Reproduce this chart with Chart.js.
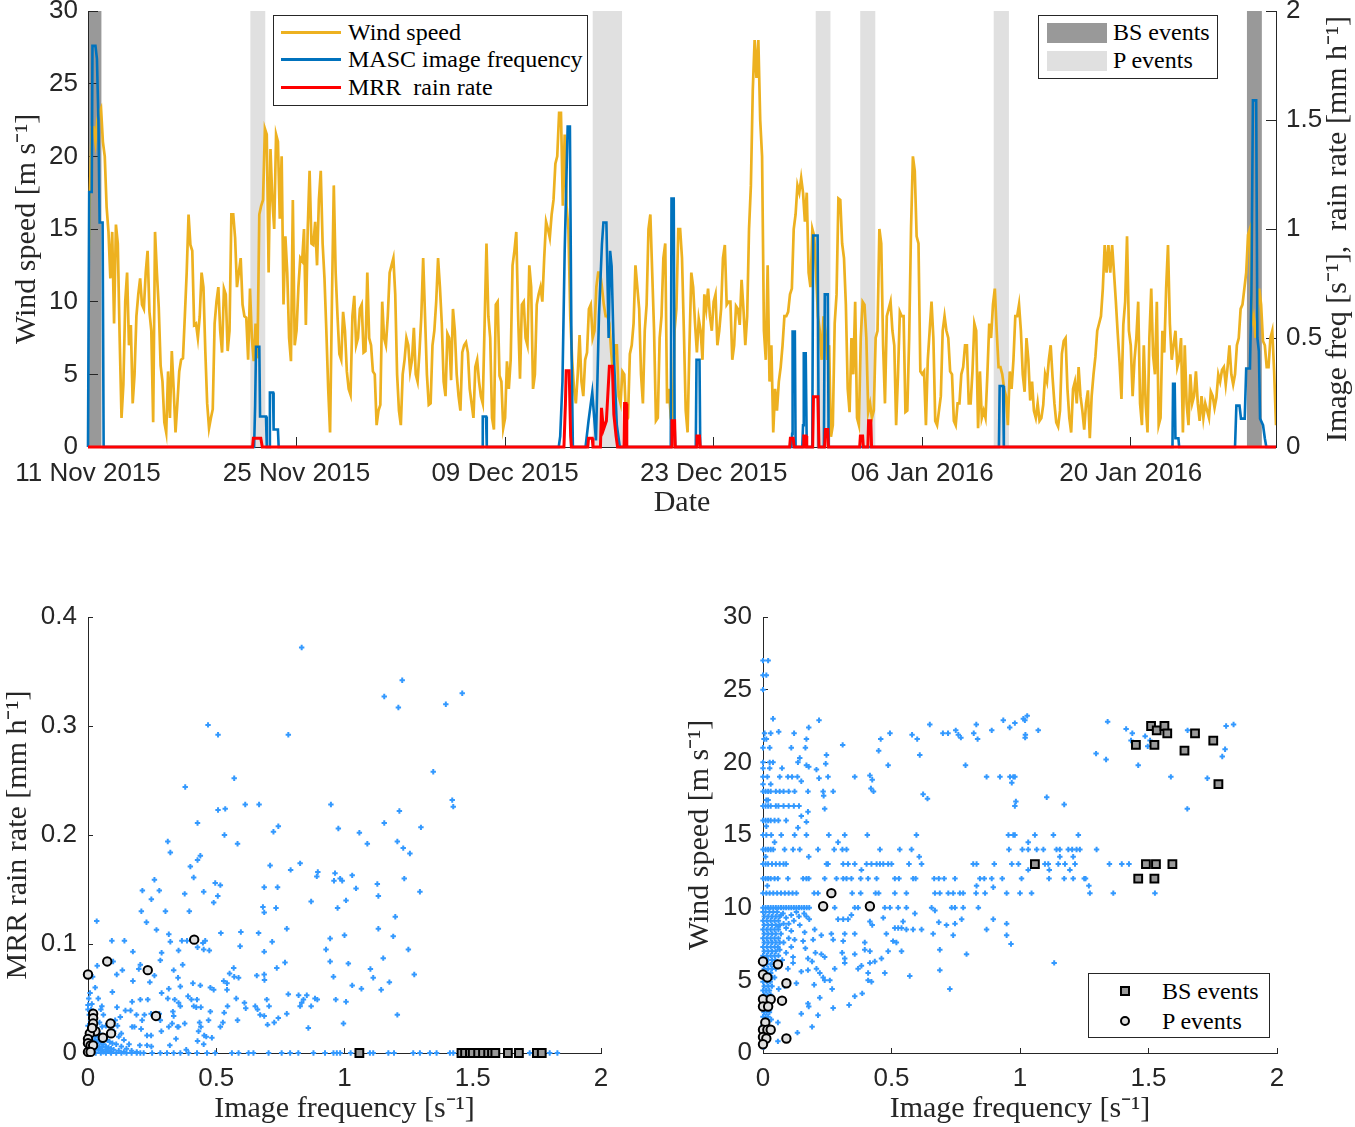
<!DOCTYPE html>
<html>
<head>
<meta charset="utf-8">
<script src="https://cdn.jsdelivr.net/npm/chart.js@4.4.1/dist/chart.umd.min.js"></script>
<style>
  body { margin: 0; background: #fff; width: 1355px; height: 1127px; position: relative; overflow: hidden; }
  canvas { position: absolute; }
  .legend { position: absolute; border: 1px solid #262626; background: #fff; box-sizing: border-box; }
  .legend span { position: absolute; font-family: "Liberation Serif", serif; font-size: 24px; line-height: 28px; color: #000; white-space: pre; }
  .legend i { position: absolute; display: block; box-sizing: border-box; }
</style>
</head>
<body>
<canvas id="series" width="1355" height="525" style="left:0;top:0"></canvas>
<canvas id="rainScatter" width="640" height="527" style="left:0;top:600px"></canvas>
<canvas id="windScatter" width="695" height="527" style="left:660px;top:600px"></canvas>

<div class="legend" style="left:273px;top:15px;width:315px;height:91px">
  <i style="left:7px;top:15px;width:60px;height:3px;background:#EDB120"></i><span style="left:74px;top:2px">Wind speed</span>
  <i style="left:7px;top:42px;width:60px;height:3px;background:#0072BD"></i><span style="left:74px;top:29px">MASC image frequency</span>
  <i style="left:7px;top:70px;width:60px;height:3px;background:#FF0000"></i><span style="left:74px;top:57px">MRR  rain rate</span>
</div>
<div class="legend" style="left:1038px;top:15px;width:180px;height:64px">
  <i style="left:8px;top:7px;width:60px;height:20px;background:#999999"></i><span style="left:74px;top:2px">BS events</span>
  <i style="left:8px;top:35px;width:60px;height:20px;background:#E0E0E0"></i><span style="left:74px;top:30px">P events</span>
</div>
<div class="legend" style="left:1088px;top:973px;width:182px;height:65px">
  <i style="left:31px;top:12px;width:10px;height:10px;background:#999999;border:2px solid #000"></i><span style="left:73px;top:3px">BS events</span>
  <i style="left:31px;top:42px;width:10px;height:10px;background:#E0E0E0;border:2px solid #000;border-radius:50%"></i><span style="left:73px;top:33px">P events</span>
</div>

<script>
// ---- time series (days since 11 Nov 2015 00:00) ----
const dateTickDays = [0, 14, 28, 42, 56, 70];
const dateTickLabels = ['11 Nov 2015', '25 Nov 2015', '09 Dec 2015', '23 Dec 2015', '06 Jan 2016', '20 Jan 2016'];
const seriesEndDay = 79.75;

// wind speed every 3 h, m/s
const windStepDays = 0.125;
const windSpeed = [
  10,17.5,22,22,21,22.5,23,23.3,21,20,16.5,14.8,11.6,14.8,8.5,15.3,14,7.5,2,4.3,
  10,12,7,8.4,3,5,9,10.5,11.6,9.8,9.5,12,13.5,9.3,8,1.7,14.8,12,9.6,5.6,
  4.5,1.7,1,5.2,2,6.6,4,1,3,5.2,6,6.1,9,12,16,13.9,13.5,8.4,8.5,7.5,
  9,12,11,6.6,3,1.3,2,2.6,8.5,10,11,8,6.5,10.9,10.5,6.6,8,16,16,14.4,
  11,12,13,9.8,9,8.9,6,10.9,7.5,5.9,8.5,6.1,16,16.6,17,21.9,21.5,12,20.5,17,
  15,21.5,21,15.7,20,9.8,14.5,12,7.5,5.9,17,7,8,11,13,12.8,15,8.4,15,19,
  14,13.9,15.5,12.5,17,19,14,11.6,8,4,1,10,18,12,9,6.4,6,9.3,8,5.2,
  4,3.6,9,10.4,7,7.5,9.5,9.8,6.5,6.6,12,7.5,7,5.2,5,1.5,2.5,2.9,10,7.5,
  7,9,12,12.5,13,10.5,5,2.5,1.5,5,6,7.5,7,5.2,6,8.2,5,4.5,6.5,9,
  13,9,5,2.9,3,7,8,10,13,11,8.5,4.5,3.5,7.8,7.5,4.6,9.5,8,5,3.5,
  2.5,6.5,7,7.2,6.5,4,3,2,5.5,6,4.5,3.5,3,8.5,14,9,7.5,2,1.2,9.8,
  10,4.9,4.5,1.3,2,5.9,4,6,12.5,13.5,14.8,9,4.7,9.8,10,7.5,7,12.5,11,4,
  5,9.8,10.5,11,10,13,15.5,15,14.4,16,17,19.5,20,23,23,16.6,21.5,16.6,15,9,
  6,4,3,5,7.7,4.5,3.5,6,6.5,9.5,9.8,7.5,8,11,12,12,11,9.8,9,9,
  8.5,6.5,5,7,7,3.5,3,5.2,5,1.8,2,6.4,7,8.5,12.5,11,9.5,5,3,8,
  9.8,15,16,12,8,1.8,2,7.5,9,13,14,3,4,2,1.5,8,9.5,15,15,13,
  8,2.5,1,7,12,11,8.5,6.5,8.8,8,6,10.5,9.5,10.9,9,8,10,10.5,7,8,
  9.5,13,13.9,9.8,10,10,6,7,9.7,9.5,8.4,11.5,9.5,7,9,15,18,24.5,28,25.4,
  28,22.5,20,8,6,12.5,4.5,7,1,4,2.5,4.5,5.5,7,9,9,9.3,10.5,10.9,15,
  16,18,17.5,18.5,17.5,15.5,17.5,12,11,15,14.5,12,9,8,6,9,8,6,7,0.7,
  1.5,8.5,10.5,17.1,17,14,13,9.8,4,2.4,7.5,5,10,2,1.5,7.5,10,9.8,7.5,2.4,
  3,2,2.5,7.5,8,15,14,7,3,9,9.5,10,8,7,1.5,5,9.3,9,9,2.4,
  2.5,7.5,15,20,19,14.5,14,5.2,5,5.2,1.5,6,8,10,7.5,1.8,1.5,2.5,3.5,8,
  9,8,7.5,5.2,5,1.8,1.5,3,3,5,5.5,7,7,3,3,5.2,8.5,8,1.3,5.2,
  2,2.5,2,5,8.5,7.5,9.8,10.9,8,5.5,5.5,5,4,3.5,1.5,5.2,4,6,9,9,
  9.8,8,5,3.8,7.5,6,3.2,4.5,2.5,2,3,1.8,2,2.9,5,4.5,6,7,4.8,3,
  1.7,1.4,2.5,6.4,7.3,7.5,4,2,1,4,4.5,3,5.5,3.5,2.5,1.2,3,3.9,0.6,3.5,
  5,6.2,8,8.5,9,10.9,13.9,12,13.9,12,13.9,12,10,7.8,5.8,3.3,8.4,10,14.5,8,
  7,3.5,6,7.5,10,3,1.5,7,3,1,7.5,10.9,6.3,5,10,1.5,2,8,6.5,10.9,
  13.9,8.5,6,7,8,5.5,6,7.5,1,7,3,1.5,5,3,3.5,5.2,3,1.8,3.5,2,
  3,2.5,2,3.8,3.5,2.7,3.4,5,4.5,5.3,5.5,4.3,5.5,7,5,4.3,5,7,7.5,9.5,
  9.8,10.9,12,14.6,15,8.5,9,7.5,9,10.9,9.8,7.3,7,5.5,5.5,7.5,8,5.2,1.5
];

// [day, image frequency s^-1]
const freqSeries = [
  [0,0],[0.08,1.17],[0.25,1.17],[0.3,1.84],[0.5,1.84],[0.6,1.78],[0.7,1.5],[0.78,1.03],[0.98,1.03],[1.05,0],
  [11.15,0],[11.22,0.19],[11.28,0.46],[11.5,0.46],[11.55,0.14],[11.95,0.14],[12.0,0],[12.17,0],[12.21,0.25],[12.42,0.25],[12.46,0.08],[12.75,0.08],[12.8,0],
  [26.45,0],[26.5,0.14],[26.72,0.14],[26.77,0],
  [31.6,0],[31.7,0.05],[31.85,0.3],[32.0,0.9],[32.2,1.47],[32.35,1.47],[32.45,0.5],[32.55,0],
  [33.4,0],[33.6,0.12],[33.85,0.25],[34.1,0.03],[34.3,0.6],[34.5,0.93],[34.6,1.03],[34.8,1.03],[34.95,0.5],[35.05,0.9],[35.15,0.83],[35.3,0.42],[35.5,0.1],[35.7,0],
  [39.12,0],[39.17,1.14],[39.32,1.14],[39.38,0.1],[39.42,0],
  [40.8,0],[40.85,0.4],[41.05,0.4],[41.1,0],
  [47.22,0],[47.27,0.06],[47.3,0.53],[47.45,0.53],[47.5,0],
  [47.95,0],[48.0,0.1],[48.05,0.43],[48.18,0.43],[48.25,0],
  [48.62,0],[48.68,0.97],[48.98,0.97],[49.05,0],
  [49.4,0],[49.46,0.7],[49.66,0.7],[49.72,0],
  [61.15,0],[61.2,0.28],[61.43,0.28],[61.48,0],
  [72.8,0],[72.84,0.29],[72.95,0.29],[73.0,0.04],[73.2,0.04],[73.25,0],
  [77.0,0],[77.09,0.19],[77.3,0.19],[77.4,0.13],[77.65,0.13],[77.75,0.36],[78.0,0.36],[78.1,0.7],[78.2,1.59],[78.42,1.59],[78.5,0.5],[78.6,0.44],[78.68,0.13],[78.88,0.1],[79.0,0.04],[79.1,0],[79.75,0]
];

// [day, rain rate mm h^-1]
const rainSeries = [
  [0,0],[11.05,0],[11.1,0.04],[11.6,0.04],[11.7,0],
  [31.95,0],[32.05,0.2],[32.1,0.35],[32.3,0.35],[32.4,0.05],[32.45,0],
  [33.55,0],[33.6,0.04],[33.85,0.04],[33.9,0],
  [34.4,0],[34.47,0.18],[34.6,0.08],[34.8,0.12],[35.0,0.37],[35.2,0.37],[35.3,0.15],[35.45,0.05],[35.55,0],
  [35.98,0],[36.02,0.2],[36.12,0.2],[36.17,0],
  [39.15,0],[39.2,0.12],[39.38,0.12],[39.42,0],
  [40.83,0],[40.88,0.05],[41.05,0.05],[41.1,0],
  [47.1,0],[47.15,0.04],[47.34,0.04],[47.4,0],
  [48.0,0],[48.05,0.05],[48.2,0.05],[48.25,0],
  [48.65,0],[48.7,0.23],[49.0,0.23],[49.07,0],
  [49.45,0],[49.5,0.08],[49.66,0.08],[49.7,0],
  [51.8,0],[51.85,0.05],[52.0,0.05],[52.05,0],
  [52.35,0],[52.4,0.12],[52.55,0.12],[52.6,0],
  [79.75,0]
];

const bsEvents = [[0, 0.9], [77.8, 78.8]];
const pEvents = [[10.9, 11.9], [33.88, 35.85], [48.85, 49.84], [51.84, 52.85], [60.8, 61.82]];

// ---- scatter: image frequency vs MRR rain rate ----
const rainAll = [
  [0.833,0.372],[0.468,0.301],[0.507,0.292],[0.781,0.292],[0.570,0.252],[0.379,0.244],[0.613,0.228],[0.667,0.228],[0.507,0.223],[0.535,0.224],
  [0.947,0.228],[0.976,0.206],[0.427,0.211],[0.532,0.200],[0.723,0.203],[0.742,0.208],[0.311,0.194],[0.321,0.184],[0.583,0.192],[0.438,0.181],
  [0.427,0.177],[0.399,0.171],[0.412,0.161],[0.710,0.172],[0.790,0.168],[0.827,0.174],[0.896,0.166],[0.892,0.162],[0.963,0.165],[0.959,0.158],
  [0.259,0.159],[0.496,0.156],[0.516,0.154],[0.212,0.149],[0.278,0.149],[0.377,0.146],[0.451,0.148],[0.687,0.152],[0.739,0.152],[0.506,0.144],
  [0.247,0.141],[0.490,0.138],[0.870,0.139],[0.208,0.130],[0.302,0.130],[0.395,0.130],[0.682,0.134],[0.687,0.129],[0.733,0.133],[0.973,0.133],
  [0.034,0.121],[0.228,0.120],[0.267,0.113],[0.775,0.114],[0.315,0.109],[0.518,0.110],[0.596,0.111],[0.665,0.110],[0.093,0.103],[0.142,0.103],
  [0.321,0.102],[0.366,0.103],[0.386,0.103],[0.457,0.103],[0.448,0.101],[0.718,0.102],[0.944,0.105],[0.593,0.098],[0.928,0.095],[0.175,0.093],
  [0.287,0.092],[0.353,0.094],[0.427,0.097],[0.451,0.095],[0.473,0.094],[0.687,0.093],[0.282,0.085],[0.098,0.084],[0.036,0.080],[0.768,0.083],
  [0.944,0.084],[0.204,0.081],[0.198,0.077],[0.369,0.081],[0.134,0.076],[0.112,0.072],[0.334,0.076],[0.259,0.071],[0.241,0.065],[0.568,0.078],
  [0.552,0.073],[0.570,0.070],[0.587,0.069],[0.658,0.071],[0.687,0.072],[0.688,0.067],[0.736,0.078],[0.957,0.070],[0.175,0.066],[0.351,0.069],
  [0.360,0.061],[0.409,0.064],[0.438,0.062],[0.477,0.060],[0.490,0.058],[0.529,0.066],[0.542,0.064],[0.542,0.058],[0.095,0.056],[0.287,0.055],
  [0.315,0.059],[0.781,0.054],[0.821,0.053],[0.853,0.053],[0.840,0.049],[0.885,0.050],[0.894,0.049],[0.966,0.049],[0.172,0.047],[0.204,0.049],
  [0.233,0.049],[0.311,0.050],[0.338,0.049],[0.353,0.046],[0.360,0.043],[0.390,0.052],[0.403,0.049],[0.425,0.049],[0.412,0.043],[0.422,0.042],
  [0.440,0.042],[0.578,0.050],[0.610,0.046],[0.615,0.041],[0.697,0.049],[0.706,0.043],[0.833,0.046],[0.827,0.043],[0.870,0.043],[0.0,0.044],
  [0.054,0.043],[0.113,0.042],[0.146,0.039],[0.166,0.039],[0.220,0.035],[0.246,0.036],[0.278,0.036],[0.331,0.038],[0.334,0.034],[0.477,0.038],
  [0.531,0.037],[0.544,0.043],[0.583,0.030],[0.652,0.043],[0.661,0.040],[0.671,0.035],[0.687,0.034],[0.742,0.032],[0.775,0.036],[0.106,0.030],
  [0.126,0.033],[0.189,0.035],[0.211,0.030],[0.282,0.030],[0.315,0.024],[0.328,0.027],[0.377,0.027],[0.349,0.024],[0.435,0.028],[0.440,0.024],
  [0.431,0.020],[0.470,0.030],[0.526,0.028],[0.516,0.024],[0.700,0.026],[0.726,0.028],[0.859,0.023],[0.172,0.024],[0.181,0.024],[0.207,0.022],
  [0.286,0.020],[0.353,0.024],[0.453,0.016],[0.461,0.015],[0.483,0.014],[0.343,0.013],[0.230,0.016],[0.246,0.016],[0.427,0.011],[0.451,0.008],
  [0.319,0.007],[0.383,0.003],[0.202,0.007],[0.230,0.007],[0.247,0.006],
  [1.225,0.342],[1.155,0.327],[1.210,0.317],[1.395,0.320],[1.459,0.330],[1.346,0.258],[1.420,0.232],[1.424,0.226],[1.214,0.222],[1.155,0.211],
  [1.298,0.207],[1.058,0.202],[1.089,0.192],[1.206,0.194],[1.229,0.188],[1.255,0.183],[0.983,0.160],[0.991,0.158],[1.030,0.163],[1.045,0.151],
  [1.128,0.155],[1.132,0.144],[1.233,0.160],[1.294,0.148],[1.006,0.140],[1.198,0.125],[1.132,0.114],[1.190,0.107],[1.000,0.108],[1.249,0.095],
  [1.151,0.087],[1.015,0.082],[1.101,0.077],[1.112,0.069],[1.272,0.072],[1.175,0.065],[1.143,0.058],[1.030,0.062],[1.066,0.059],[1.006,0.047],
  [1.206,0.035],[0.996,0.027],
  [0,0.04],[0.005,0.035],[0.01,0.03],[0.015,0.025],[0.02,0.02],[0.03,0.015],[0.04,0.012],[0.05,0.01],[0.06,0.008],[0.07,0.006],
  [0.08,0.005],[0.09,0.004],[0.1,0.003],[0.12,0.002],[0.14,0.001],[0.01,0.01],[0.02,0.008],[0.03,0.005],[0.04,0.003],[0.05,0.002],
  [0.06,0.001],[0.005,0.02],[0.01,0.015],[0.015,0.045],[0.025,0.03],[0.035,0.022],[0.045,0.018],[0.055,0.024],[0.065,0.015],[0.075,0.012],
  [0.085,0.01],[0.095,0.009],[0.11,0.008],[0.13,0.006],[0.15,0.004],[0.17,0.002],[0.19,0.001],[0.025,0.012],[0.035,0.009],[0.045,0.006],
  [0.055,0.005],[0.068,0.003],[0.078,0.002],[0.088,0.001],[0,0.025],[0,0.015],[0,0.005],[0.003,0.05],[0.008,0.055],[0.012,0.04],
  [0.02,0.035],[0.1,0.02],[0.12,0.015],[0.07,0.025],[0.06,0.035],[0.115,0.025],[0.14,0.012],[0.16,0.008],[0.05,0.04],[0.04,0.05],
  [0.028,0.06],[0.018,0.07],[0.045,0.028],[0.085,0.02],[0.13,0.018],
  [0.01,0],[0.03,0],[0.05,0],[0.07,0],[0.09,0],[0.11,0],[0.13,0],[0.15,0],[0.17,0],[0.19,0],
  [0.204,0],[0.217,0],[0.25,0],[0.282,0],[0.308,0],[0.334,0],[0.36,0],[0.392,0],[0.425,0],[0.464,0],
  [0.496,0],[0.561,0],[0.587,0],[0.626,0],[0.645,0],[0.704,0],[0.755,0],[0.788,0],[0.82,0],[0.879,0],
  [0.924,0],[0.957,0],[0.97,0],[0.983,0],[1.024,0],[1.099,0],[1.112,0],[1.171,0],[1.193,0],[1.268,0],
  [1.294,0],[1.333,0],[1.359,0],[1.411,0],[1.424,0],[1.722,0],[1.800,0],[1.830,0]
];
const rainP = [
  [0,0.072],[0.075,0.084],[0.233,0.076],[0.414,0.104],[0.265,0.034],[0.02,0.036],[0.02,0.032],[0.02,0.027],[0.088,0.027],[0.09,0.018],
  [0.058,0.014],[0.029,0.020],[0.007,0.018],[0,0.013],[0,0.009],[0.01,0.007],[0.02,0.007],[0,0.001],[0.01,0.001],[0.016,0.023]
];
const rainBS = [
  [1.058,0],[1.456,0],[1.47,0],[1.489,0],[1.50,0],[1.521,0],[1.54,0],[1.560,0],[1.575,0],[1.588,0],[1.637,0],[1.680,0],[1.750,0],[1.769,0]
];

// ---- scatter: image frequency vs wind speed ----
const windAll = [
  [0,27],[0.02,27],[0,26],[0.013,26],[0,25],
  [0.039,23],[0.218,22.9],[1.013,23],[1.028,23.2],[1.019,22.9],
  [0.649,22.6],[0.935,22.9],[0.98,22.7],[0.96,22.4],[0.83,22.6],[1.341,22.8],[1.413,22.3],[1.437,22],[1.487,21.8],[1.652,22.2],
  [1.802,22.5],[1.831,22.6],[1.071,22.2],[1.021,21.9],[0.006,22],[0.03,22],[0.061,22.1],[0.121,22],[0.178,22.4],[0.494,22],
  [0.58,21.9],[0.70,22],[0.72,22],[0.75,22.2],[0.76,21.9],[0.82,22],[0.89,22.2],[1.02,21.7],
  [0.004,21.6],[0.013,21.6],[0.169,21.6],[0.458,21.6],[0.6,21.6],[0.77,21.7],[0.835,21.6],[0,21],[0.026,21],[0.11,21],
  [0.165,21],[0.31,21.2],[0.45,20.8],[1.432,21.5],[1.497,21.1],[1.506,21.5],[1.296,20.6],[1.335,20.2],[1.46,19.8],[1.798,20.9],[1.787,20.4],
  [0,20],[0.026,20],[0.039,20],[0.136,20],[0.143,20.3],[0.247,20.5],[0.244,19.9],[0.61,20.5],[0.487,19.8],[0.788,19.8],[0.169,19.8],[0.178,19.7],
  [0,19.6],[0.026,19.6],[0.074,19.6],[0.208,19.5],[0,19],[0.017,19],[0.065,19],[0.097,19],[0.113,19],[0.134,19],
  [0.218,18.9],[0.253,19],[0.357,19],[0.416,19.1],[0.425,18.8],[0.87,19],[0.922,19],[0.961,19],[0.974,19],[0.968,18.6],
  [0.149,18.7],[0.98,19],[1.587,19],[1.729,18.9],
  [0,18.5],[0.03,18.5],[0.123,18],[0,18],[0.01,18],[0.02,18],[0.03,18],[0.05,18],[0.065,18],[0.08,18],
  [0.1,18],[0.175,18],[0.234,18],[0.273,18],[0.42,18.2],[0.43,18],[0.236,17.7],[0.623,17.8],[0.64,17.5],
  [0,17],[0.01,17],[0.02,17],[0.03,17],[0.05,17],[0.06,17],[0.08,17],[0.1,17],[0.12,17],[0.14,17],
  [0.175,16.6],[0.24,16.8],[0.984,17.3],[0.98,17],[0.013,17.4],[0.02,17.4],[1.104,17.6],[1.172,17.1],[1.651,16.8],
  [0,16],[0.01,16],[0.02,16],[0.03,16],[0.045,16],[0.06,16],[0.09,16],[0.149,16.3],[0.169,15.9],[0.136,15.5],[0.013,15.6],
  [0,15],[0.013,15],[0.032,15],[0.071,15],[0.123,15],[0.169,15],[0.256,15],[0.318,15],[0.406,15],[0.597,15],
  [0.955,15],[0.974,15],[0.045,14.5],[0.292,14.5],[0.98,15],[1.058,15],[1.13,15],[1.227,15],[1.032,14.5],
  [0,14],[0.01,14],[0.02,14],[0.03,14],[0.04,14],[0.084,14],[0.117,14],[0.143,14],[0.214,14],[0.277,14],
  [0.309,14],[0.325,14],[0.455,14],[0.532,14],[0.578,14],[0.957,14],[1.009,14],[0.01,13.5],[0.178,13.5],[0.608,13.5],
  [1.032,14],[1.065,14],[1.091,14],[1.142,14],[1.155,14],[1.188,14],[1.203,14],[1.22,14],[1.233,14],[1.298,14],[1.155,13.5],[1.207,13.5],
  [0,13],[0.01,13],[0.02,13],[0.035,13],[0.05,13],[0.065,13],[0.08,13],[0.09,13],[0.247,13],[0.253,13],
  [0.312,13],[0.331,13],[0.357,13],[0.403,13],[0.422,13],[0.442,13],[0.455,13],[0.468,13],[0.487,13],[0.5,13],
  [0.568,13],[0.617,13],[0.818,13],[0.831,13],[0.9,13],[0.968,13],[0.994,13],[0.383,12.6],[1.097,13],[1.11,13],
  [1.149,13],[1.175,13],[1.214,13],[1.348,13],[1.396,13],[1.424,13],[1.032,12.6],[1.114,12.6],[1.194,12.6],
  [0,12],[0.01,12],[0.02,12],[0.03,12],[0.045,12],[0.058,12],[0.097,12],[0.156,12],[0.169,12],[0.178,12],
  [0.24,12],[0.286,12],[0.312,12],[0.325,12],[0.344,12],[0.38,12],[0.409,12],[0.442,12],[0.513,12],[0.529,12],
  [0.584,12],[0.594,12],[0.666,12],[0.684,12],[0.705,12],[0.747,12],[0.844,12],[0.861,12],[0.89,12],[0.931,12],
  [1.006,12],[0.017,11.5],[0.831,11.5],[0.896,11.4],[1.113,12],[1.172,12],[1.207,12],[1.25,12],[1.255,12],[1.268,11.5],
  [0,11],[0.013,11],[0.026,11],[0.04,11],[0.055,11],[0.07,11],[0.085,11],[0.1,11],[0.115,11],[0.13,11],
  [0.199,11],[0.214,11],[0.347,11],[0.38,11],[0.438,11],[0.45,11],[0.513,11],[0.558,11],[0.669,11],[0.688,11],
  [0.721,11],[0.74,11],[0.766,11],[0.779,11],[0.829,11],[0.864,11],[0.948,11],[1.0,11],[1.045,11],[1.272,11],[1.363,11],[1.525,11],
  [0,10],[0.01,10],[0.02,10],[0.03,10],[0.04,10],[0.05,10],[0.06,10],[0.07,10],[0.08,10],[0.09,10],
  [0.1,10],[0.11,10],[0.12,10],[0.13,10],[0.14,10],[0.15,10],[0.16,10],[0.17,10],[0.18,10],[0.238,10],
  [0.279,10],[0.357,10],[0.37,10],[0.474,10],[0.494,10],[0.526,10],[0.558,10],[0.591,9.6],[0.656,10],[0.669,9.8],
  [0.734,10],[0.747,10],[0.779,10],[0.838,10],
  [0.078,9.6],[0.13,9.7],[0.169,9.4],[0.344,9.5],[0.292,9.2],[0.312,9.2],[0.331,9.2],[0.416,9.05],[0.425,8.8],[0.468,9.3],
  [0.545,9.05],[0.773,9.2],[0.896,9.2],[0.684,9],[0.714,8.8],[0.747,8.9],[0.948,8.9],[0.09,8.6],[0.143,8.8],[0.162,8.3],
  [0.201,8.5],[0.266,8.2],[0.273,7.8],[0.318,8.2],[0.357,8.2],[0.513,8.6],[0.526,8.6],[0.539,8.6],[0.558,8.5],[0.584,8.5],
  [0.617,8.5],[0.662,8.2],[0.74,8.1],[0.87,8.5],[0.948,8.1],[0.965,7.5],[0.123,7.8],[0.156,7.7],[0.195,7.8],[0.227,8.1],
  [0.312,7.7],[0.396,7.6],[0.48,8.2],[0.519,7.6],[0.506,7.7],[0.688,7.1],[0.792,6.8],[0.11,7.3],[0.165,7.2],[0.204,6.9],
  [0.227,6.8],[0.24,6.6],[0.308,6.9],[0.318,6.5],[0.357,6.8],[0.396,7.1],[0.416,7],[0.461,6.5],[0.487,7],[0.539,7],
  [0.117,6.6],[0.175,6.5],[0.191,6.3],[0.279,5.8],[0.318,6.2],[0.37,5.8],[0.383,6],[0.416,6.2],[0.435,6.3],[0.208,5.8],
  [0.221,5.5],[0.234,5.2],[0.149,5.6],[0.175,5.7],[0.409,5.5],[0.474,5.5],[0.571,5.3],[0.688,5.7],[0.409,5],[0.422,4.9],
  [0.13,4.8],[0.199,4.7],[0.24,5],[0.26,5],[0.269,4.4],[0.727,4.4],[0.357,3.9],[0.386,4.1],[0.221,3.8],[0.175,3.4],
  [0.178,3.2],[0.273,3.1],[0.335,3.3],[0.149,2.7],[0.214,2.6],[0.191,1.8],[0.134,1.4],[0.058,0.8],[0.032,2.3],[0.058,2.1],
  [0.026,3],[0.061,4.4],[0.084,4.6],[0.045,5.2],[0.097,5.8],[0.117,6.2],[1.133,6.2],
  [0.07,9.5],[0.09,9.3],[0.11,9.5],[0.12,9.1],[0.1,8.9],[0.14,9.4],[0.16,9.6],[0.08,8.9],[0.06,8.7],[0.11,8.4],
  [0.18,9.2],[0.07,8.2],[0.08,7.6],[0.1,7.9],[0.065,7.1],[0.09,6.9],[0.075,6.4],
  [0,9.7],[0.01,9.7],[0.025,9.7],[0.04,9.7],[0.055,9.7],[0.005,9.4],[0.02,9.4],[0.035,9.4],[0.05,9.4],[0.065,9.4],
  [0,9.1],[0.015,9.1],[0.03,9.1],[0.045,9.1],[0.06,9.1],[0.005,8.8],[0.02,8.8],[0.035,8.8],[0.05,8.8],[0.065,8.8],
  [0,8.5],[0.015,8.5],[0.03,8.5],[0.045,8.5],[0.06,8.5],[0.005,8.2],[0.02,8.2],[0.035,8.2],[0.05,8.2],
  [0,7.9],[0.015,7.9],[0.03,7.9],[0.045,7.9],[0.06,7.9],[0.005,7.6],[0.02,7.6],[0.035,7.6],[0.05,7.6],[0.065,7.6],
  [0,7.3],[0.015,7.3],[0.03,7.3],[0.045,7.3],[0.058,7.3],[0.005,7],[0.02,7],[0.035,7],[0.05,7],
  [0,6.7],[0.015,6.7],[0.03,6.7],[0.045,6.7],[0.06,6.7],[0.005,6.4],[0.02,6.4],[0.035,6.4],[0.048,6.4],
  [0,6.1],[0.015,6.1],[0.03,6.1],[0.042,6.1],[0.005,5.8],[0.02,5.8],[0.035,5.8],[0.05,5.8],
  [0,5.5],[0.015,5.5],[0.03,5.5],[0.005,5.2],[0.02,5.2],[0.035,5.2],[0,4.9],[0.015,4.9],[0.028,4.9],
  [0.005,4.6],[0.02,4.6],[0.035,4.6],[0,4.3],[0.012,4.3],[0.025,4.3],[0.005,4],[0.018,4],[0.03,4],
  [0,3.7],[0.012,3.7],[0.024,3.7],[0.004,3.4],[0.016,3.4],[0.028,3.4],[0,3.1],[0.01,3.1],[0.02,3.1],
  [0.004,2.8],[0.014,2.8],[0.025,2.8],[0,2.5],[0.01,2.5],[0.02,2.5],[0.004,2.2],[0.012,2.2],
  [0,1.9],[0.01,1.9],[0.018,1.9],[0.004,1.6],[0.012,1.6],[0,1.3],[0.008,1.3],[0.016,1.3],
  [0.003,1],[0.01,1],[0,0.7],[0.006,0.7],[0.002,0.4]
];
const windP = [
  [0.266,11],[0.234,10.1],[0.416,10.1],[0,6.3],[0.058,6.1],[0,5.4],[0.017,5.2],[0.091,4.8],[0,3.7],[0.03,3.7],
  [0.074,3.6],[0,3.2],[0.02,3.2],[0.009,2.1],[0,1.6],[0.017,1.6],[0.03,1.6],[0,1.1],[0.013,1.0],[0.091,1.0],[0,0.6]
];
const windBS = [
  [1.51,22.5],[1.532,22.2],[1.562,22.5],[1.573,22.0],[1.451,21.2],[1.523,21.2],[1.681,22.0],[1.752,21.5],[1.64,20.8],[1.772,18.5],
  [1.058,13],[1.49,13],[1.529,13],[1.593,13],[1.46,12],[1.523,12]
];

// ---- common styling ----
Chart.defaults.animation = false;
Chart.defaults.font.family = '"Liberation Sans", Arial, sans-serif';
Chart.defaults.color = '#262626';
Chart.defaults.plugins.legend.display = false;
Chart.defaults.plugins.tooltip.enabled = false;

const tickFont = { family: '"Liberation Sans", Arial, sans-serif', size: 26 };
const titleFont = { family: '"Liberation Serif", serif', size: 30 };
const ink = '#262626';
const plainNumber = v => String(+Number(v).toFixed(3));

const toXY = pairs => pairs.map(([x, y]) => ({ x, y }));
const fixWidth = w => s => { s.width = w; s.paddingTop = 0; s.paddingBottom = 0; };
const fixHeight = h => s => { s.height = h; s.paddingLeft = 0; s.paddingRight = 0; };
const axisGrid = len => ({ drawOnChartArea: false, tickLength: -len, color: ink, lineWidth: 1 });

// shaded BS / P event periods behind the series
const eventBands = {
  id: 'eventBands',
  beforeDraw(chart) {
    const { ctx, chartArea: a, scales: { x } } = chart;
    const fill = (list, color) => {
      ctx.fillStyle = color;
      list.forEach(([s, e]) => {
        const x0 = x.getPixelForValue(s), x1 = x.getPixelForValue(e);
        ctx.fillRect(x0, a.top, x1 - x0, a.bottom - a.top);
      });
    };
    ctx.save();
    fill(pEvents, '#E0E0E0');
    fill(bsEvents, '#999999');
    ctx.restore();
  }
};

// right axis title reads bottom-to-top like the left one
const rightTitle = {
  id: 'rightTitle',
  afterDraw(chart) {
    const { ctx, chartArea: a, scales: { y2 } } = chart;
    ctx.save();
    ctx.translate(y2.right - 17, (a.top + a.bottom) / 2);
    ctx.rotate(-Math.PI / 2);
    ctx.font = '30px "Liberation Serif", serif';
    ctx.fillStyle = ink;
    ctx.textAlign = 'center';
    ctx.textBaseline = 'middle';
    ctx.fillText('Image freq [s\u207B\u00B9],  rain rate [mm h\u207B\u00B9]', 0, 0);
    ctx.restore();
  }
};

new Chart(document.getElementById('series'), {
  type: 'line',
  data: {
    datasets: [
      { label: 'MRR rain rate', data: toXY(rainSeries), yAxisID: 'y2', borderColor: '#FF0000', borderWidth: 3, pointRadius: 0, order: 1, clip: 5 },
      { label: 'MASC image frequency', data: toXY(freqSeries), yAxisID: 'y2', borderColor: '#0072BD', borderWidth: 2.6, pointRadius: 0, order: 2, clip: 5 },
      { label: 'Wind speed', data: windSpeed.map((v, i) => ({ x: i * windStepDays, y: v })), yAxisID: 'y', borderColor: '#EDB120', borderWidth: 2.7, pointRadius: 0, order: 3 }
    ]
  },
  options: {
    responsive: false,
    layout: { padding: { top: 11, left: 0, right: 0, bottom: 0 } },
    scales: {
      x: {
        type: 'linear', min: 0, max: seriesEndDay,
        afterBuildTicks: s => { s.ticks = dateTickDays.map(v => ({ value: v })); },
        afterFit: fixHeight(78),
        ticks: { autoSkip: false, maxRotation: 0, font: tickFont, color: ink, padding: 21, callback: (v, i) => dateTickLabels[i] },
        grid: axisGrid(10),
        border: { color: ink, width: 1 },
        title: { display: true, text: 'Date', font: titleFont, color: ink, padding: { top: 0, bottom: 4 } }
      },
      y: {
        position: 'left', min: 0, max: 30,
        afterFit: fixWidth(88),
        ticks: { stepSize: 5, font: tickFont, color: ink, padding: 20, callback: plainNumber },
        grid: axisGrid(10),
        border: { color: ink, width: 1 },
        title: { display: true, text: 'Wind speed [m s\u207B\u00B9]', font: titleFont, color: ink, padding: { top: 9, bottom: 0 } }
      },
      y2: {
        position: 'right', min: 0, max: 2,
        afterFit: fixWidth(79),
        ticks: { stepSize: 0.5, font: tickFont, color: ink, padding: 20, callback: plainNumber },
        grid: axisGrid(10),
        border: { color: ink, width: 1 }
      }
    }
  },
  plugins: [eventBands, rightTitle]
});

function scatterChart(id, blue, bs, p, yMax, yStep, yTitle, yWidth, titlePad, rightPad) {
  return new Chart(document.getElementById(id), {
    type: 'scatter',
    data: {
      datasets: [
        { label: 'BS events', data: toXY(bs), pointStyle: 'rect', pointRadius: 5.5, backgroundColor: '#999999', borderColor: '#000', borderWidth: 2, order: 1, clip: false },
        { label: 'P events', data: toXY(p), pointStyle: 'circle', pointRadius: 4.2, backgroundColor: '#E0E0E0', borderColor: '#000', borderWidth: 2, order: 2, clip: false },
        { label: 'all', data: toXY(blue), pointStyle: 'cross', pointRadius: 2.7, backgroundColor: '#3399FF', borderColor: '#3399FF', borderWidth: 2, order: 3, clip: false }
      ]
    },
    options: {
      responsive: false,
      layout: { padding: { top: 17, left: 0, right: rightPad, bottom: 0 } },
      scales: {
        x: {
          type: 'linear', min: 0, max: 2,
          afterFit: fixHeight(74),
          ticks: { stepSize: 0.5, font: tickFont, color: ink, padding: 15, maxRotation: 0, callback: plainNumber },
          grid: axisGrid(5),
          border: { color: ink, width: 1 },
          title: { display: true, text: 'Image frequency [s\u207B\u00B9]', font: titleFont, color: ink, padding: { top: 0, bottom: 0 } }
        },
        y: {
          min: 0, max: yMax,
          afterFit: fixWidth(yWidth),
          ticks: { stepSize: yStep, font: tickFont, color: ink, padding: 16, callback: plainNumber },
          grid: axisGrid(5),
          border: { color: ink, width: 1 },
          title: { display: true, text: yTitle, font: titleFont, color: ink, padding: { top: titlePad, bottom: 0 } }
        }
      }
    }
  });
}

scatterChart('rainScatter', rainAll, rainBS, rainP, 0.4, 0.1, 'MRR rain rate [mm h\u207B\u00B9]', 88, 0, 39);
scatterChart('windScatter', windAll, windBS, windP, 30, 5, 'Wind speed [m s\u207B\u00B9]', 103, 22, 78);
</script>
</body>
</html>
